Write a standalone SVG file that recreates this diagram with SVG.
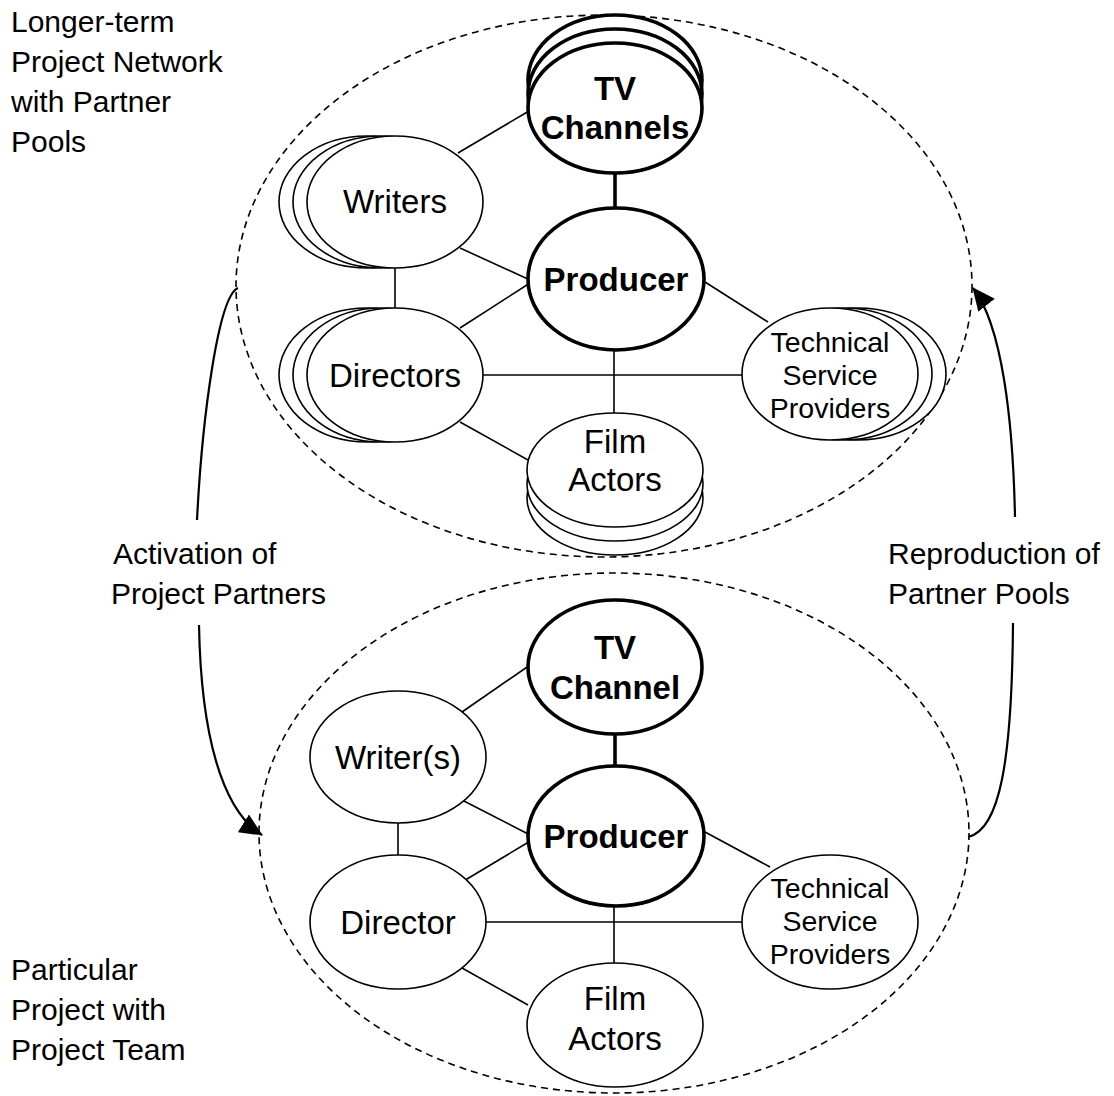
<svg xmlns="http://www.w3.org/2000/svg" width="1114" height="1096" viewBox="0 0 1114 1096">
<style>
.bg{fill:#fff}
.dash{fill:none;stroke:#000;stroke-width:1.6;stroke-dasharray:7 5}
.n{fill:#fff;stroke:#000;stroke-width:1.6}
.k{fill:#fff;stroke:#000;stroke-width:3.6}
.c{stroke:#000;stroke-width:1.6;fill:none}
.ck{stroke:#000;stroke-width:3.6;fill:none}
.arr{stroke:#000;stroke-width:2.2;fill:none}
.lab{font-family:"Liberation Sans",Arial,sans-serif;font-size:30px;fill:#000}
.t{font-family:"Liberation Sans",Arial,sans-serif;font-size:33px;fill:#000;text-anchor:middle}
.tb{font-family:"Liberation Sans",Arial,sans-serif;font-size:33px;font-weight:bold;fill:#000;text-anchor:middle}
.ts{font-family:"Liberation Sans",Arial,sans-serif;font-size:28.5px;fill:#000;text-anchor:middle}
</style>
<defs>
<marker id="ah" markerUnits="userSpaceOnUse" viewBox="0 0 23 21" refX="22" refY="10.5" markerWidth="23" markerHeight="21" orient="auto">
<path d="M0,0 L23,10.5 L0,21 z" fill="#000"/>
</marker>
</defs>
<rect class="bg" x="0" y="0" width="1114" height="1096"/>

<g id="labels">
<text class="lab" x="11" y="32">Longer-term</text>
<text class="lab" x="11" y="72">Project Network</text>
<text class="lab" x="11" y="112">with Partner</text>
<text class="lab" x="11" y="152">Pools</text>
<text class="lab" x="113" y="564">Activation of</text>
<text class="lab" x="111" y="604">Project Partners</text>
<text class="lab" x="888" y="564">Reproduction of</text>
<text class="lab" x="888" y="604">Partner Pools</text>
<text class="lab" x="11" y="980">Particular</text>
<text class="lab" x="11" y="1020">Project with</text>
<text class="lab" x="11" y="1060">Project Team</text>
</g>

<g id="boundaries">
<ellipse class="dash" cx="604" cy="286" rx="368" ry="271"/>
<ellipse class="dash" cx="614" cy="833" rx="355" ry="260"/>
</g>

<g id="connectors">
<path class="arr" d="M238,288 C218,296 202,420 197,520"/>
<path class="arr" d="M199,625 C201,735 222,810 262,835" marker-end="url(#ah)"/>
<path class="arr" d="M1015,517 C1013,420 1002,325 973,288" marker-end="url(#ah)"/>
<path class="arr" d="M1013,623 C1012,760 1000,830 968,837"/>

<line class="ck" x1="615" y1="172" x2="615" y2="208"/>
<line class="c" x1="458" y1="153" x2="529" y2="111"/>
<line class="c" x1="460" y1="248" x2="530" y2="280"/>
<line class="c" x1="395" y1="267" x2="395" y2="308"/>
<line class="c" x1="460" y1="328" x2="530" y2="283"/>
<line class="c" x1="460" y1="422" x2="528" y2="460"/>
<line class="c" x1="483" y1="375" x2="742" y2="375"/>
<line class="c" x1="614" y1="349" x2="614" y2="414"/>
<line class="c" x1="705" y1="282" x2="768" y2="322"/>

<line class="ck" x1="615" y1="734" x2="615" y2="767"/>
<line class="c" x1="462" y1="712" x2="530" y2="665"/>
<line class="c" x1="462" y1="800" x2="530" y2="835"/>
<line class="c" x1="398" y1="823" x2="398" y2="856"/>
<line class="c" x1="462" y1="882" x2="532" y2="840"/>
<line class="c" x1="462" y1="968" x2="528" y2="1005"/>
<line class="c" x1="486" y1="922" x2="742" y2="922"/>
<line class="c" x1="614" y1="905" x2="614" y2="964"/>
<line class="c" x1="705" y1="832" x2="770" y2="867"/>
</g>

<g id="tv-channels">
<ellipse class="k" cx="615" cy="80" rx="87" ry="65"/>
<ellipse class="k" cx="615" cy="94" rx="87" ry="65"/>
<ellipse class="k" cx="615" cy="108" rx="87" ry="65"/>
<text class="tb" x="615" y="100">TV</text>
<text class="tb" x="615" y="139">Channels</text>
</g>

<g id="producer-top">
<ellipse class="k" cx="616" cy="279" rx="88" ry="71"/>
<text class="tb" x="616" y="291">Producer</text>
</g>

<g id="writers">
<ellipse class="n" cx="367" cy="202" rx="88" ry="66"/>
<ellipse class="n" cx="381" cy="202" rx="88" ry="66"/>
<ellipse class="n" cx="395" cy="202" rx="88" ry="66"/>
<text class="t" x="395" y="213">Writers</text>
</g>

<g id="directors">
<ellipse class="n" cx="367" cy="375" rx="88" ry="67"/>
<ellipse class="n" cx="381" cy="375" rx="88" ry="67"/>
<ellipse class="n" cx="395" cy="375" rx="88" ry="67"/>
<text class="t" x="395" y="387">Directors</text>
</g>

<g id="technical-top">
<ellipse class="n" cx="858" cy="374" rx="88" ry="66"/>
<ellipse class="n" cx="844" cy="374" rx="88" ry="66"/>
<ellipse class="n" cx="830" cy="374" rx="88" ry="66"/>
<text class="ts" x="830" y="352">Technical</text>
<text class="ts" x="830" y="385">Service</text>
<text class="ts" x="830" y="418">Providers</text>
</g>

<g id="film-actors-top">
<ellipse class="n" cx="615" cy="498" rx="88" ry="57"/>
<ellipse class="n" cx="615" cy="484" rx="88" ry="57"/>
<ellipse class="n" cx="615" cy="470" rx="88" ry="57"/>
<text class="t" x="615" y="453">Film</text>
<text class="t" x="615" y="491">Actors</text>
</g>

<g id="tv-channel">
<ellipse class="k" cx="615" cy="667" rx="87" ry="67"/>
<text class="tb" x="615" y="659">TV</text>
<text class="tb" x="615" y="699">Channel</text>
</g>

<g id="producer-bottom">
<ellipse class="k" cx="616" cy="836" rx="88" ry="70"/>
<text class="tb" x="616" y="848">Producer</text>
</g>

<g id="writer-s">
<ellipse class="n" cx="398" cy="757" rx="88" ry="66"/>
<text class="t" x="398" y="769">Writer(s)</text>
</g>

<g id="director">
<ellipse class="n" cx="398" cy="922" rx="88" ry="67"/>
<text class="t" x="398" y="934">Director</text>
</g>

<g id="technical-bottom">
<ellipse class="n" cx="830" cy="922" rx="88" ry="67"/>
<text class="ts" x="830" y="898">Technical</text>
<text class="ts" x="830" y="931">Service</text>
<text class="ts" x="830" y="964">Providers</text>
</g>

<g id="film-actors-bottom">
<ellipse class="n" cx="615" cy="1025" rx="88" ry="62"/>
<text class="t" x="615" y="1010">Film</text>
<text class="t" x="615" y="1050">Actors</text>
</g>
</svg>
